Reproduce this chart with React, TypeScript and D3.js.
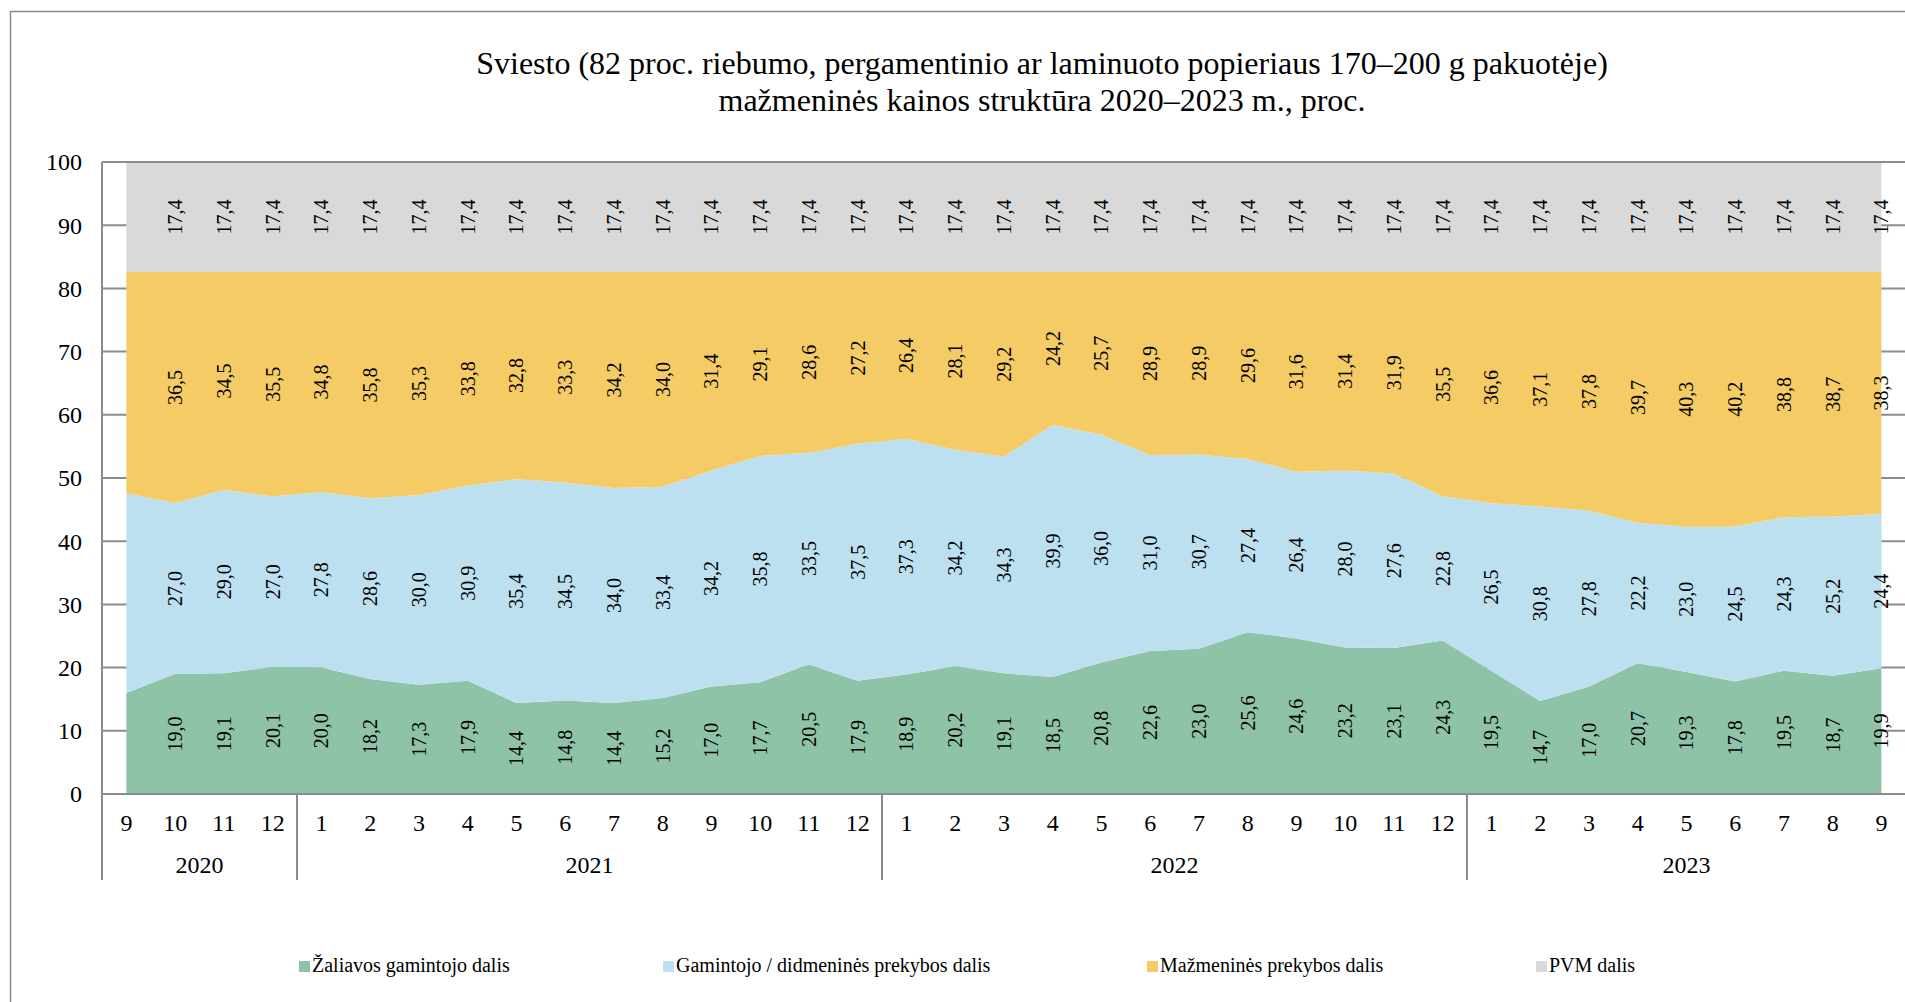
import React, { useRef, useEffect } from "react";
import * as d3 from "d3";

// months shown on the x axis, Sept 2020 .. Sept 2023
const months = [
  9, 10, 11, 12,
  1, 2, 3, 4, 5, 6, 7, 8, 9, 10, 11, 12,
  1, 2, 3, 4, 5, 6, 7, 8, 9, 10, 11, 12,
  1, 2, 3, 4, 5, 6, 7, 8, 9,
];

const yearGroups: [string, number][] = [
  ["2020", 4],
  ["2021", 12],
  ["2022", 12],
  ["2023", 9],
];

const rawShare = [
  16.0, 19.0, 19.1, 20.1,
  20.0, 18.2, 17.3, 17.9, 14.4, 14.8, 14.4, 15.2, 17.0, 17.7, 20.5, 17.9,
  18.9, 20.2, 19.1, 18.5, 20.8, 22.6, 23.0, 25.6, 24.6, 23.2, 23.1, 24.3,
  19.5, 14.7, 17.0, 20.7, 19.3, 17.8, 19.5, 18.7, 19.9,
];

const wholesaleShare = [
  31.6, 27.0, 29.0, 27.0,
  27.8, 28.6, 30.0, 30.9, 35.4, 34.5, 34.0, 33.4, 34.2, 35.8, 33.5, 37.5,
  37.3, 34.2, 34.3, 39.9, 36.0, 31.0, 30.7, 27.4, 26.4, 28.0, 27.6, 22.8,
  26.5, 30.8, 27.8, 22.2, 23.0, 24.5, 24.3, 25.2, 24.4,
];

const retailShare = [
  35.0, 36.5, 34.5, 35.5,
  34.8, 35.8, 35.3, 33.8, 32.8, 33.3, 34.2, 34.0, 31.4, 29.1, 28.6, 27.2,
  26.4, 28.1, 29.2, 24.2, 25.7, 28.9, 28.9, 29.6, 31.6, 31.4, 31.9, 35.5,
  36.6, 37.1, 37.8, 39.7, 40.3, 40.2, 38.8, 38.7, 38.3,
];

const vatShare = [
  17.4, 17.4, 17.4, 17.4,
  17.4, 17.4, 17.4, 17.4, 17.4, 17.4, 17.4, 17.4, 17.4, 17.4, 17.4, 17.4,
  17.4, 17.4, 17.4, 17.4, 17.4, 17.4, 17.4, 17.4, 17.4, 17.4, 17.4, 17.4,
  17.4, 17.4, 17.4, 17.4, 17.4, 17.4, 17.4, 17.4, 17.4,
];

const seriesKeys = ["raw", "wholesale", "retail", "vat"];
const seriesNames = [
  "Žaliavos gamintojo dalis",
  "Gamintojo / didmeninės prekybos dalis",
  "Mažmeninės prekybos dalis",
  "PVM dalis",
];
const seriesColors = ["#8FC3A7", "#BDE0F0", "#F5CB65", "#D9D9D9"];

const yTicks = [0, 10, 20, 30, 40, 50, 60, 70, 80, 90, 100];

const titleLines = [
  "Sviesto (82 proc. riebumo, pergamentinio ar laminuoto popieriaus 170–200 g pakuotėje)",
  "mažmeninės kainos struktūra 2020–2023 m., proc.",
];

const W = 1905;
const H = 1002;
const FONT = "'Liberation Serif', 'Times New Roman', serif";
const GRID = "#8c8c8c";

const App = () => {
  const svgRef = useRef<SVGSVGElement>(null);

  useEffect(() => {
    const svg = d3.select(svgRef.current);
    svg.selectAll("*").remove();

    const plot = { left: 102, top: 162, bottom: 794, band: 48.75 };
    const rows = months.map((m, i) => ({
      i,
      raw: rawShare[i],
      wholesale: wholesaleShare[i],
      retail: retailShare[i],
      vat: vatShare[i],
    }));

    const x = d3
      .scaleBand<number>()
      .domain(rows.map(d => d.i))
      .range([plot.left, plot.left + plot.band * rows.length])
      .paddingInner(0)
      .paddingOuter(0);
    const cx = (i: number) => (x(i) as number) + x.bandwidth() / 2;

    // 100% stacked: shares normalised to 0..1
    const y = d3.scaleLinear().domain([0, 1]).range([plot.bottom, plot.top]);

    const stacked = d3.stack<any>().keys(seriesKeys).offset(d3.stackOffsetExpand)(rows);

    // outer chart frame (cut by the page edge)
    svg.append("rect")
      .attr("x", 10.5).attr("y", 11.5)
      .attr("width", 2200).attr("height", 1100)
      .attr("fill", "white")
      .attr("stroke", GRID).attr("stroke-width", 1.5);

    // title
    svg.append("g")
      .selectAll("text")
      .data(titleLines)
      .enter()
      .append("text")
      .attr("x", 1042)
      .attr("y", (d, k) => 74 + k * 37)
      .attr("text-anchor", "middle")
      .attr("font-family", FONT)
      .attr("font-size", 32)
      .attr("fill", "#000")
      .text(d => d);

    const xEnd = plot.left + plot.band * rows.length;

    // gridlines
    svg.append("g")
      .selectAll("line")
      .data(yTicks)
      .enter()
      .append("line")
      .attr("x1", plot.left).attr("x2", xEnd)
      .attr("y1", d => y(d / 100)).attr("y2", d => y(d / 100))
      .attr("stroke", GRID).attr("stroke-width", 2);

    // stacked areas
    const area = d3.area<any>()
      .x(d => cx(d.data.i))
      .y0(d => y(d[0]))
      .y1(d => y(d[1]));

    svg.append("g")
      .selectAll("path")
      .data(stacked)
      .enter()
      .append("path")
      .attr("d", d => area(d))
      .attr("fill", (d, k) => seriesColors[k]);

    // top border line over the grey area
    svg.append("line")
      .attr("x1", plot.left).attr("x2", xEnd)
      .attr("y1", y(1)).attr("y2", y(1))
      .attr("stroke", GRID).attr("stroke-width", 2);

    // data labels (none on the first month)
    const fmt = (v: number) => d3.format(".1f")(v).replace(".", ",");
    stacked.forEach(layer => {
      svg.append("g")
        .selectAll("text")
        .data(layer.filter(d => d.data.i > 0))
        .enter()
        .append("text")
        .attr("transform", d => `translate(${cx(d.data.i)},${y((d[0] + d[1]) / 2)})rotate(-90)`)
        .attr("text-anchor", "middle")
        .attr("dy", "0.35em")
        .attr("font-family", FONT)
        .attr("font-size", 20)
        .attr("fill", "#000")
        .text(d => fmt(d.data[layer.key]));
    });

    // axes
    svg.append("line")
      .attr("x1", plot.left).attr("x2", plot.left)
      .attr("y1", y(1)).attr("y2", 880)
      .attr("stroke", GRID).attr("stroke-width", 2);
    svg.append("line")
      .attr("x1", plot.left).attr("x2", xEnd)
      .attr("y1", y(0)).attr("y2", y(0))
      .attr("stroke", GRID).attr("stroke-width", 2);

    svg.append("g")
      .selectAll("text")
      .data(yTicks)
      .enter()
      .append("text")
      .attr("x", 82)
      .attr("y", d => y(d / 100))
      .attr("dy", "0.35em")
      .attr("text-anchor", "end")
      .attr("font-family", FONT)
      .attr("font-size", 24)
      .text(d => d);

    svg.append("g")
      .selectAll("text")
      .data(rows)
      .enter()
      .append("text")
      .attr("x", d => cx(d.i))
      .attr("y", 831)
      .attr("text-anchor", "middle")
      .attr("font-family", FONT)
      .attr("font-size", 24)
      .text(d => months[d.i]);

    // year groups with separators
    let start = 0;
    yearGroups.forEach(([year, count], k) => {
      const x0 = x(start) as number;
      const x1 = x0 + plot.band * count;
      if (k > 0) {
        svg.append("line")
          .attr("x1", x0).attr("x2", x0)
          .attr("y1", y(0)).attr("y2", 880)
          .attr("stroke", GRID).attr("stroke-width", 2);
      }
      svg.append("text")
        .attr("x", (x0 + x1) / 2)
        .attr("y", 873)
        .attr("text-anchor", "middle")
        .attr("font-family", FONT)
        .attr("font-size", 24)
        .text(year);
      start += count;
    });

    // legend
    const legendX = [299, 663, 1147, 1536];
    const lg = svg.append("g")
      .selectAll("g")
      .data(seriesNames)
      .enter()
      .append("g")
      .attr("transform", (d, k) => `translate(${legendX[k]},961)`);
    lg.append("rect")
      .attr("width", 11).attr("height", 11)
      .attr("fill", (d, k) => seriesColors[k]);
    lg.append("text")
      .attr("x", 13)
      .attr("y", 11)
      .attr("font-family", FONT)
      .attr("font-size", 20)
      .text(d => d);
  }, []);

  return (
    <svg
      ref={svgRef}
      width={W}
      height={H}
      style={{ position: "absolute", left: 0, top: 0, display: "block", overflow: "hidden", background: "white" }}
    ></svg>
  );
};

export default App;
